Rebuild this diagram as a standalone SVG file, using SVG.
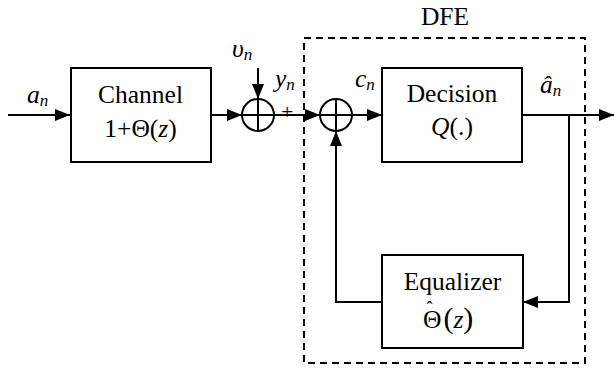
<svg xmlns="http://www.w3.org/2000/svg" width="614" height="369" viewBox="0 0 614 369">
<style>
.box{fill:#fff;stroke:#000;stroke-width:2}
.ln{fill:none;stroke:#000;stroke-width:2}
.i{font-style:italic}
.dash{fill:none;stroke:#000;stroke-width:2;stroke-dasharray:7 5}
</style>
<defs>
<marker id="ah" markerUnits="userSpaceOnUse" markerWidth="16" markerHeight="13" refX="15" refY="6" orient="auto">
<path d="M0,0 L15,6 L0,12 z" fill="#000"/>
</marker>
</defs>
<rect id="dfe-border" class="dash" x="304" y="38" width="281" height="325"/>
<text x="445" y="25" text-anchor="middle" font-family="Liberation Serif, serif" font-size="25.5">DFE</text>
<g id="connectors">
<path class="ln" d="M8,115 H70" marker-end="url(#ah)"/>
<path class="ln" d="M211,115 H242" marker-end="url(#ah)"/>
<path class="ln" d="M258,68 V99" marker-end="url(#ah)"/>
<path class="ln" d="M274,115 H320" marker-end="url(#ah)"/>
<path class="ln" d="M352,115 H382" marker-end="url(#ah)"/>
<path class="ln" d="M522,115 H614" marker-end="url(#ah)"/>
<path class="ln" d="M569,115 V302 H523" marker-end="url(#ah)"/>
<path class="ln" d="M382,302 H336 V131" marker-end="url(#ah)"/>
</g>
<g id="channel" font-family="Liberation Serif, serif" font-size="25.5">
<rect class="box" x="71" y="68" width="140" height="94"/>
<text x="140.5" y="103" text-anchor="middle">Channel</text>
<text x="140.5" y="137" text-anchor="middle">1+Θ(<tspan class="i">z</tspan>)</text>
</g>
<g id="sum1">
<circle class="ln" cx="258" cy="115" r="16"/>
<path class="ln" d="M242,115 H274 M258,99 V131"/>
</g>
<g id="sum2">
<circle class="ln" cx="336" cy="115" r="16"/>
<path class="ln" d="M320,115 H352 M336,99 V131"/>
</g>
<g id="decision" font-family="Liberation Serif, serif" font-size="25.5">
<rect class="box" x="382" y="68" width="140" height="94"/>
<text x="452" y="102" text-anchor="middle">Decision</text>
<text x="452" y="135" text-anchor="middle"><tspan class="i">Q</tspan>(.)</text>
</g>
<g id="equalizer" font-family="Liberation Serif, serif" font-size="25.5">
<rect class="box" x="382" y="255" width="141" height="93"/>
<text x="452.5" y="290" text-anchor="middle">Equalizer</text>
<text x="423" y="328">Θ<tspan font-size="30" dx="2">(</tspan><tspan class="i">z</tspan><tspan font-size="30">)</tspan></text>
<text x="429.5" y="314" font-size="18" text-anchor="middle">ˆ</text>
</g>
<g id="labels" font-family="Liberation Serif, serif" font-size="25.5">
<text class="i" x="27" y="103">a<tspan font-size="17" dy="3">n</tspan></text>
<text class="i" x="232" y="57">υ<tspan font-size="17" dy="3">n</tspan></text>
<text class="i" x="275" y="87">y<tspan font-size="17" dy="3">n</tspan></text>
<text x="281" y="119" font-size="22">+</text>
<text class="i" x="355" y="87">c<tspan font-size="17" dy="3">n</tspan></text>
<text class="i" x="540" y="93">â<tspan font-size="17" dy="3">n</tspan></text>
</g>
</svg>
